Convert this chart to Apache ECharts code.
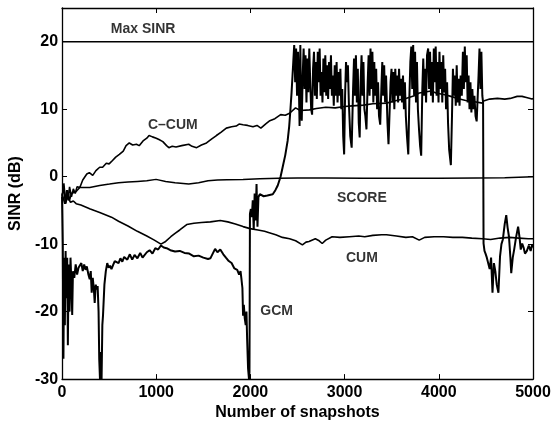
<!DOCTYPE html>
<html>
<head>
<meta charset="utf-8">
<script src="https://cdn.jsdelivr.net/npm/echarts@6/dist/echarts.min.js"></script>
<style>html,body{margin:0;padding:0;background:#fff}#c{width:554px;height:426px}</style>
</head>
<body>
<div id="c"></div>
<script>
var xTicks = [0, 1000, 2000, 3000, 4000, 5000];
var yTicks = [-30, -20, -10, 0, 10, 20];

var maxSinr = [[0, 20], [5000, 20]];

var score = [[0,-3],[20,-1],[40,-4],[60,-2],[80,-3.5],[100,-2.5],[150,-2.2],[189,-1.6],[294,-1.6],[400,-1.3],[504,-1.1],[600,-0.9],[700,-0.8],[800,-0.7],[900,-0.6],[998,-0.4],[1100,-0.7],[1200,-0.9],[1345,-1.1],[1450,-0.9],[1550,-0.6],[1650,-0.5],[1750,-0.45],[1922,-0.4],[2100,-0.3],[2300,-0.25],[2500,-0.2],[2800,-0.2],[3200,-0.25],[3600,-0.25],[4000,-0.25],[4400,-0.2],[4700,-0.15],[5000,0]];

var cum = [[0,-2.5],[30,-4],[60,-3],[90,-3.8],[120,-3.6],[150,-4],[200,-4.2],[300,-4.8],[400,-5.3],[525,-6],[600,-6.6],[700,-7.3],[800,-8.1],[900,-8.8],[980,-9.4],[1050,-10],[1100,-9.6],[1155,-8.9],[1200,-8.4],[1250,-7.9],[1324,-7.1],[1400,-6.9],[1480,-6.8],[1575,-6.7],[1680,-6.5],[1760,-6.7],[1840,-7.0],[1922,-7.4],[1996,-7.7],[2080,-7.9],[2150,-8.1],[2200,-8.3],[2269,-8.6],[2340,-9.0],[2416,-9.2],[2480,-9.5],[2552,-10.1],[2590,-9.7],[2622,-9.6],[2689,-9.2],[2730,-9.5],[2762,-9.9],[2800,-9.4],[2867,-8.9],[2950,-9.0],[3050,-8.9],[3150,-8.8],[3214,-8.9],[3300,-8.7],[3393,-8.6],[3445,-8.6],[3550,-8.8],[3650,-9.0],[3720,-8.9],[3792,-9.4],[3850,-9.0],[3950,-8.9],[4050,-8.9],[4150,-9.0],[4250,-9.0],[4350,-9.1],[4464,-9.2],[4550,-9.3],[4650,-9.1],[4750,-9.0],[4850,-9.1],[4950,-9.2],[5000,-9.2]];

var ccum = [[0,-3],[20,-1.5],[35,-4],[50,-2],[65,-3.5],[80,-1.5],[100,-3],[120,-1.8],[140,-2.5],[160,-1.5],[189,-1.6],[220,-0.5],[263,0.4],[290,0.6],[326,0.2],[360,0.9],[400,1.4],[431,1.4],[470,2.0],[500,1.9],[536,2.4],[570,2.9],[609,3.3],[650,3.8],[680,4.6],[714,5.0],[750,4.7],[790,4.8],[819,4.6],[860,5.3],[900,5.7],[924,6.1],[960,5.9],[1000,5.7],[1029,5.5],[1070,5.2],[1110,4.6],[1134,4.3],[1170,4.5],[1210,4.4],[1271,4.6],[1292,4.6],[1345,4.8],[1380,4.5],[1429,4.3],[1480,4.7],[1534,5.0],[1590,5.6],[1639,6.1],[1690,6.6],[1744,7.2],[1800,7.4],[1849,7.5],[1880,7.8],[1922,7.7],[1970,7.6],[2027,7.4],[2070,7.6],[2111,7.2],[2160,7.8],[2206,8.3],[2260,8.6],[2321,9.2],[2370,9.1],[2416,9.4],[2479,10.2],[2530,9.8],[2626,9.9],[2700,10.1],[2800,10.3],[2900,10.2],[3000,10.4],[3080,10.5],[3200,10.6],[3300,10.8],[3445,10.9],[3550,11.3],[3650,11.6],[3740,12.0],[3792,12.4],[3918,12.7],[3971,12.4],[4076,12.1],[4128,11.9],[4200,11.6],[4286,11.3],[4380,11.1],[4464,10.9],[4475,11.2],[4540,11.5],[4622,11.6],[4700,11.5],[4758,11.6],[4832,11.9],[4884,11.9],[4940,11.7],[4990,11.5],[5000,11.6]];

var gcm = [[0,-3],[8,-10],[15,-27],[22,-12],[30,-22],[38,-11],[46,-18],[55,-12],[62,-25],[70,-13],[80,-20],[90,-12],[100,-16],[108,-20.5],[116,-14],[130,-15],[145,-13],[160,-14.5],[175,-13.5],[189,-13.7],[205,-12.8],[220,-14],[235,-13],[250,-13.8],[263,-13.3],[280,-14.5],[294,-15.2],[305,-14],[315,-17.2],[326,-15],[337,-16.5],[347,-18.7],[358,-16],[368,-16.7],[378,-16.2],[388,-20],[395,-27],[403,-30],[412,-26],[420,-30],[428,-22],[435,-20.6],[450,-16],[465,-14],[480,-12.8],[495,-13.5],[510,-13.2],[525,-13.7],[545,-13],[560,-12.5],[578,-12.3],[600,-12.8],[620,-12.1],[640,-12.6],[660,-11.9],[693,-12.3],[720,-11.5],[745,-12.3],[770,-11.6],[800,-12.1],[830,-11.3],[855,-12.0],[872,-11.8],[900,-11.2],[930,-10.9],[960,-11.4],[990,-10.6],[1020,-10.8],[1050,-10.2],[1080,-10.5],[1110,-10.6],[1150,-10.9],[1200,-11.1],[1250,-11.0],[1300,-11.3],[1350,-11.4],[1400,-11.8],[1450,-11.7],[1500,-12.0],[1550,-12.2],[1575,-12.1],[1600,-11.4],[1625,-10.7],[1650,-11.2],[1680,-10.8],[1712,-11.5],[1740,-12],[1770,-12.5],[1800,-12.8],[1830,-13.6],[1860,-13.8],[1880,-14.5],[1895,-14],[1905,-15.2],[1915,-16.5],[1922,-20.6],[1930,-19],[1940,-21],[1950,-22],[1958,-20],[1965,-24],[1975,-28.4],[1985,-30],[1990,-29],[1995,-5.5],[2005,-4.8],[2015,-6],[2025,-3.5],[2035,-7.9],[2045,-2.5],[2055,-6.5],[2065,-1.1],[2075,-7.4],[2085,-3],[2100,-2.6],[2140,-2.9],[2180,-2.8],[2237,-2.6],[2265,-2],[2290,-1.3],[2320,0],[2342,1.4],[2370,3.2],[2395,5.3],[2412,7.5],[2426,10.2],[2437,12.5],[2447,15],[2455,17],
[2465,19.5],[2475,14],[2485,19],[2495,12],[2505,18.5],[2515,13],[2522,7.5],[2530,19.5],[2537,11],[2545,8.3],[2555,15],[2565,19],[2575,13],[2585,18],[2595,11],[2605,17.5],[2615,12.5],[2625,19],[2635,14],[2645,10],[2655,9.2],[2665,16],[2675,18.5],[2685,12],[2695,17],[2705,11.5],[2715,18.5],[2725,14],[2735,19],[2745,12],[2755,15.5],[2765,11],[2775,17.5],[2785,12.5],[2795,18],[2805,12],[2815,16.5],[2825,11.5],[2835,17],[2845,13],[2855,18],[2865,12],[2875,15],[2885,10.5],[2895,16.5],[2905,12],[2915,17],[2925,11],[2935,15.5],[2945,12],[2955,16],[2965,10],[2975,13],[2985,6],[2995,3.3],[3005,12],[3015,17],[3025,14],[3035,16.5],[3045,11],[3060,6],[3075,4.3],[3090,13],[3100,17.5],[3110,12],[3120,18],[3130,11],[3140,16],[3150,8],[3160,5.8],[3170,14],[3180,18],[3190,12],[3200,17],[3210,10],[3220,9],[3232,7],[3245,14],[3255,18],[3265,12],[3275,19],[3285,13],[3295,18.5],[3305,11],[3315,17],[3325,12],[3335,16],[3345,10],[3355,14],[3365,9],[3378,7.7],[3390,13],[3400,17],[3410,12],[3420,16.5],[3430,11],[3440,15],[3455,8],[3466,4.8],[3477,5],[3488,14],[3498,16],[3508,11],[3518,15.5],[3528,10],[3538,16],[3548,12],[3558,15],[3568,11],[3578,16],[3588,12],[3598,14.5],[3610,11],[3620,15],[3630,10],[3640,14],[3650,9],[3662,6],[3676,3.3],[3688,12],[3698,17],[3708,19.3],[3718,13],[3728,19.5],[3738,12],[3748,18.5],[3758,11],[3768,17],[3778,10],[3790,7],[3802,4.5],[3813,3.1],[3825,13],[3835,17.5],[3845,12],[3855,16],[3865,11],[3875,18],[3887,19],[3897,13],[3907,18.5],[3917,12],[3927,17],[3937,11],[3947,19],[3957,14],[3967,19.3],[3977,12],[3987,17],[3997,11],[4007,18.5],[4017,13],[4027,17],[4037,11],[4047,18],[4057,12.5],[4067,16],[4077,10],[4088,14],[4098,8],[4110,4],[4128,1.7],[4140,9],[4150,16],[4160,12],[4170,15],[4180,10.5],[4190,16.5],[4200,11],[4210,14.5],[4220,10.5],[4232,15],[4244,12],[4256,18.5],[4266,13],[4276,19.3],[4286,14],[4296,18],[4306,11],[4316,15],[4326,10],[4336,14],[4346,9.5],[4356,13],[4366,10],[4378,12],[4390,9],[4402,8.2],[4412,8.3],[4422,15],[4432,19],[4442,13],[4452,18.5],[4462,12],[4470,11],
[4475,-9.9],[4485,-11],[4496,-11.4],[4510,-12],[4525,-11.8],[4540,-13.7],[4555,-12],[4570,-17.2],[4585,-12.8],[4600,-14],[4615,-16],[4633,-17.2],[4650,-11.8],[4665,-10],[4680,-9.3],[4700,-7],[4716,-5.7],[4730,-7.5],[4745,-8.9],[4760,-12],[4769,-14.3],[4785,-12],[4800,-10.8],[4820,-9],[4842,-7.4],[4857,-9],[4870,-10.8],[4885,-9.9],[4900,-10.5],[4915,-11.4],[4935,-11],[4955,-10.2],[4975,-11],[4990,-10.1],[5000,-10.5]];

var labelNames = ['Max SINR', 'C\u2013CUM', 'SCORE', 'CUM', 'GCM'];
var labelX = [861, 1176, 3183, 3183, 2279];
var labelY = [21.8, 7.6, -3.2, -12.1, -20.0];

var FONT = '"Liberation Sans", Arial, Helvetica, sans-serif';
var chart = echarts.init(document.getElementById('c'), null, {renderer: 'canvas'});

function lineSeries(name, data, w) {
  return {
    name: name, type: 'line', data: data, showSymbol: false, symbol: 'none',
    lineStyle: {color: '#000', width: w}, silent: true, z: 3, animation: false
  };
}

var axisLineStyle = {show: true, onZero: false, lineStyle: {color: '#000', width: 1.3}};
var tickStyle = {show: true, inside: true, length: 5, lineStyle: {color: '#000', width: 1}};

var option = {
  animation: false,
  backgroundColor: '#fff',
  grid: {left: 57, right: 21, top: 8, bottom: 42, containLabel: false},
  xAxis: [{
    type: 'value', min: 0, max: 5000, interval: 1000, position: 'bottom',
    axisLine: axisLineStyle, axisTick: tickStyle, splitLine: {show: false},
    axisLabel: {color: '#000', fontSize: 16, fontWeight: 'bold', fontFamily: FONT, margin: 5,
      formatter: function (v) { return xTicks.indexOf(v) >= 0 ? String(v) : ''; }},
    name: 'Number of snapshots', nameLocation: 'middle', nameGap: 18,
    nameTextStyle: {color: '#000', fontSize: 16, fontWeight: 'bold', fontFamily: FONT}
  }, {
    type: 'value', min: 0, max: 5000, interval: 1000, position: 'top',
    axisLine: axisLineStyle, axisTick: tickStyle, splitLine: {show: false},
    axisLabel: {show: false}
  }],
  yAxis: [{
    type: 'value', min: -30, max: 25, interval: 10, position: 'left',
    axisLine: axisLineStyle, axisTick: tickStyle, splitLine: {show: false},
    axisLabel: {color: '#000', fontSize: 16, fontWeight: 'bold', fontFamily: FONT, margin: 4,
      formatter: function (v) { return yTicks.indexOf(v) >= 0 ? String(v) : ''; }},
    name: 'SINR (dB)', nameLocation: 'middle', nameGap: 36, nameRotate: 90,
    nameTextStyle: {color: '#000', fontSize: 16, fontWeight: 'bold', fontFamily: FONT}
  }, {
    type: 'value', min: -30, max: 25, interval: 10, position: 'right',
    axisLine: axisLineStyle, axisTick: tickStyle, splitLine: {show: false},
    axisLabel: {show: false}
  }],
  series: [
    lineSeries('Max SINR', maxSinr, 1.4),
    lineSeries('SCORE', score, 1.5),
    lineSeries('CUM', cum, 1.6),
    lineSeries('C-CUM', ccum, 1.6),
    lineSeries('GCM', gcm, 2.0),
    {
      name: 'labels', type: 'scatter', symbolSize: 0, silent: true, z: 5,
      data: labelNames.map(function (n, i) { return {name: n, value: [labelX[i], labelY[i]]}; }),
      label: {show: true, position: 'inside', formatter: '{b}', color: '#000',
        fontSize: 14, fontWeight: 'bold', fontFamily: FONT}
    }
  ]
};
chart.setOption(option);
</script>
</body>
</html>
